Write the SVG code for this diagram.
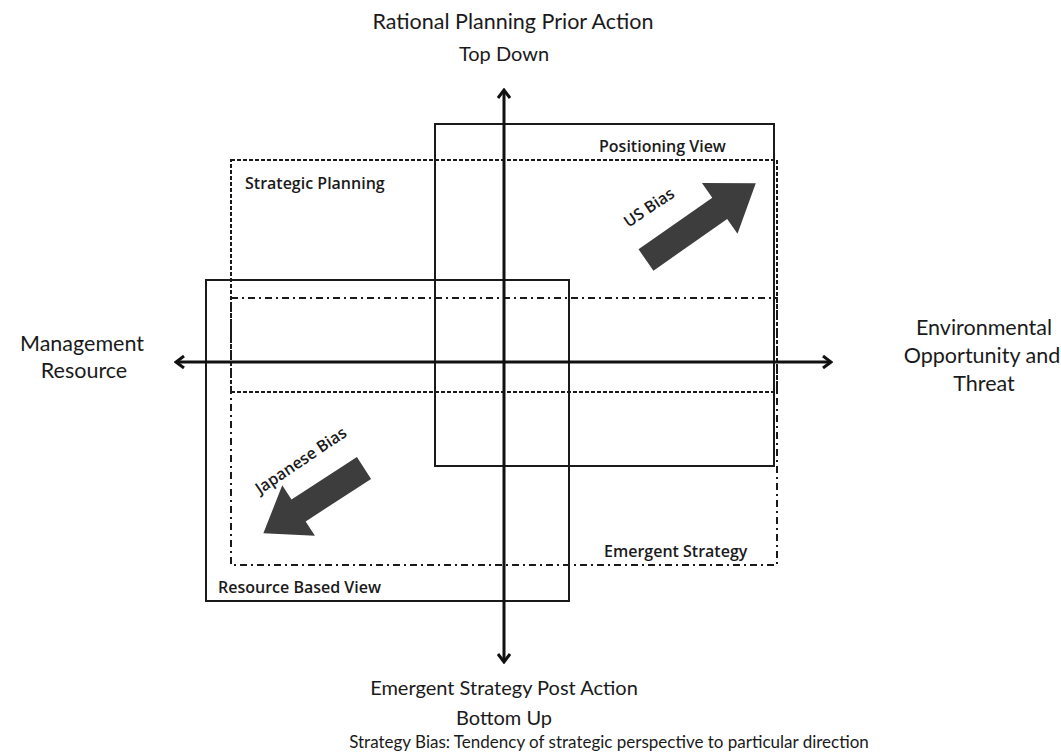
<svg xmlns="http://www.w3.org/2000/svg" width="1061" height="755" viewBox="0 0 1061 755">
<defs>
<style>
.t{font-family:Lato,"Open Sans","Liberation Sans",sans-serif;fill:#1a1a1a}
.big{font-size:21.5px;text-anchor:middle}
.mid{font-size:20px;text-anchor:middle}
.sm{font-family:"Open Sans","Liberation Sans",sans-serif;font-size:16px;font-weight:600}
.lbl{font-family:"Open Sans","Liberation Sans",sans-serif;font-size:16px;font-weight:600;text-anchor:middle}
.solid{fill:none;stroke:#1a1a1a;stroke-width:2}
.dash{fill:none;stroke:#1a1a1a;stroke-width:2;stroke-dasharray:4 2}
.dashdot{fill:none;stroke:#1a1a1a;stroke-width:2;stroke-dasharray:7 4 2 4}
.axis{fill:none;stroke:#111;stroke-width:3}
.bias{fill:#3d3d3d}
</style>
<marker id="ah" viewBox="0 0 12 14" refX="10" refY="7" markerWidth="12" markerHeight="14" markerUnits="userSpaceOnUse" orient="auto-start-reverse">
<path d="M2,1 L10,7 L2,13" fill="none" stroke="#111" stroke-width="3"/>
</marker>
</defs>
<rect width="1061" height="755" fill="#fff"/>
<g id="positioning-view">
<rect class="solid" x="435" y="124" width="339" height="342"/>
<text class="t sm" x="599" y="152">Positioning View</text>
</g>
<g id="strategic-planning">
<rect class="dash" x="231" y="160" width="546" height="232"/>
<text class="t sm" x="245" y="189">Strategic Planning</text>
</g>
<g id="emergent-strategy">
<rect class="dashdot" x="231" y="298" width="546" height="267"/>
<text class="t sm" x="604" y="557">Emergent Strategy</text>
</g>
<g id="resource-based-view">
<rect class="solid" x="206" y="280" width="363" height="321"/>
<text class="t sm" x="218" y="593">Resource Based View</text>
</g>
<g id="us-bias">
<polygon class="bias" transform="translate(646,260) rotate(-35)" points="0,-13 90,-13 90,-31 134,0 90,31 90,13 0,13"/>
<text class="t lbl" transform="translate(652,212) rotate(-34)">US Bias</text>
</g>
<g id="japanese-bias">
<polygon class="bias" transform="translate(364,468) rotate(147)" points="0,-13 78,-13 78,-30 120,0 78,30 78,13 0,13"/>
<text class="t lbl" transform="translate(304,465) rotate(-34)">Japanese Bias</text>
</g>
<g id="connectors">
<line class="axis" x1="504" y1="662" x2="504" y2="90" marker-start="url(#ah)" marker-end="url(#ah)"/>
<line class="axis" x1="176" y1="362" x2="831" y2="362" marker-start="url(#ah)" marker-end="url(#ah)"/>
</g>
<g id="axis-labels">
<text class="t big" x="513" y="29">Rational Planning Prior Action</text>
<text class="t mid" x="504" y="61">Top Down</text>
<text class="t big" x="82" y="351">Management</text>
<text class="t big" x="84" y="378">Resource</text>
<text class="t big" x="984" y="335">Environmental</text>
<text class="t big" x="982" y="363">Opportunity and</text>
<text class="t big" x="984" y="391">Threat</text>
<text class="t mid" x="504" y="695">Emergent Strategy Post Action</text>
<text class="t mid" x="504" y="725">Bottom Up</text>
<text class="t" font-size="17" text-anchor="middle" x="609" y="748">Strategy Bias: Tendency of strategic perspective to particular direction</text>
</g>
</svg>
